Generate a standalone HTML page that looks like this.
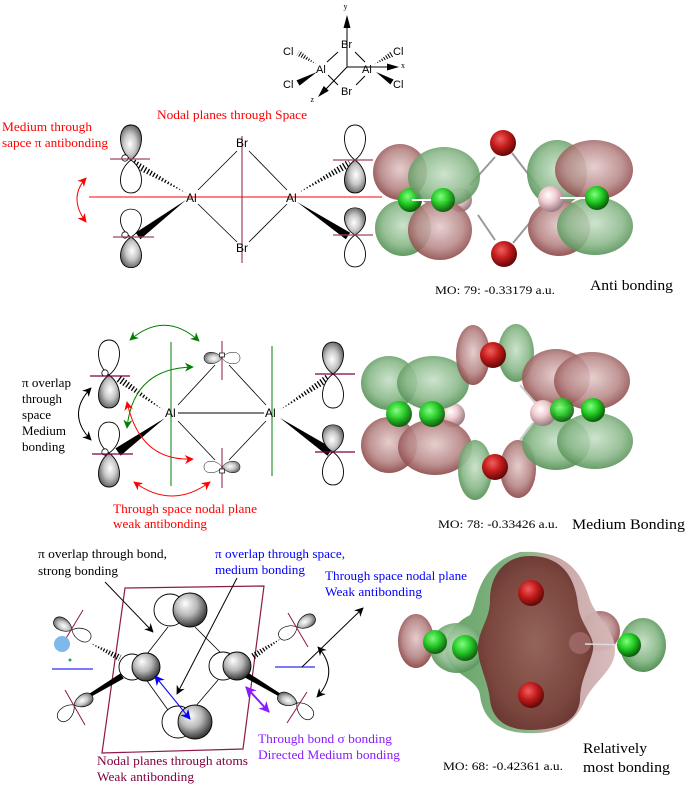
<!DOCTYPE html>
<html><head><meta charset="utf-8">
<style>
html,body{margin:0;padding:0;background:#fff;}
svg{display:block;}
.s{font-family:"Liberation Sans",sans-serif;}
.t{font-family:"Liberation Serif",serif;}
</style></head><body>
<svg width="689" height="791" viewBox="0 0 689 791" xmlns="http://www.w3.org/2000/svg">
<defs>
<path id="lobe" d="M0,0 C-14,-10 -14,-34 0,-34 C14,-34 14,-10 0,0Z"/>
<radialGradient id="gl" cx="0.45" cy="0.55" r="0.65"><stop offset="0" stop-color="#ffffff"/><stop offset="0.45" stop-color="#c8c8c8"/><stop offset="1" stop-color="#4a4a4a"/></radialGradient>
<radialGradient id="sph" cx="0.42" cy="0.38" r="0.65" fx="0.35" fy="0.3"><stop offset="0" stop-color="#ffffff"/><stop offset="0.5" stop-color="#b8b8b8"/><stop offset="1" stop-color="#2a2a2a"/></radialGradient>
<radialGradient id="gm" cx="0.5" cy="0.45" r="0.6"><stop offset="0" stop-color="#c8e0c8"/><stop offset="0.6" stop-color="#8cba8c"/><stop offset="1" stop-color="#488648"/></radialGradient>
<radialGradient id="rm" cx="0.5" cy="0.45" r="0.6"><stop offset="0" stop-color="#e4caca"/><stop offset="0.6" stop-color="#b88888"/><stop offset="1" stop-color="#823838"/></radialGradient>
<radialGradient id="rb" cx="0.4" cy="0.35" r="0.65"><stop offset="0" stop-color="#f06060"/><stop offset="0.5" stop-color="#c41c1c"/><stop offset="1" stop-color="#620808"/></radialGradient>
<radialGradient id="gb" cx="0.4" cy="0.35" r="0.65"><stop offset="0" stop-color="#80ff80"/><stop offset="0.5" stop-color="#22cc22"/><stop offset="1" stop-color="#0a5a0a"/></radialGradient>
<radialGradient id="pb" cx="0.4" cy="0.35" r="0.65"><stop offset="0" stop-color="#ffffff"/><stop offset="0.45" stop-color="#f2cdd2"/><stop offset="1" stop-color="#9a7c82"/></radialGradient>
<radialGradient id="body" cx="0.5" cy="0.5" r="0.6"><stop offset="0" stop-color="#94645a"/><stop offset="0.7" stop-color="#7a463e"/><stop offset="1" stop-color="#62322c"/></radialGradient>
<linearGradient id="env" x1="0" y1="0" x2="1" y2="0"><stop offset="0" stop-color="#5e9e5e"/><stop offset="0.5" stop-color="#86b486"/><stop offset="0.62" stop-color="#c4a0a0"/><stop offset="1" stop-color="#d6b8b8"/></linearGradient>
<marker id="aK" viewBox="0 0 10 10" refX="9" refY="5" markerWidth="9" markerHeight="9" markerUnits="userSpaceOnUse" orient="auto-start-reverse"><path d="M0,0 L10,5 L0,10 L3,5z" fill="#000"/></marker>
<marker id="aR" viewBox="0 0 10 10" refX="9" refY="5" markerWidth="9" markerHeight="9" markerUnits="userSpaceOnUse" orient="auto-start-reverse"><path d="M0,0 L10,5 L0,10 L3,5z" fill="#ff0000"/></marker>
<marker id="aG" viewBox="0 0 10 10" refX="9" refY="5" markerWidth="9" markerHeight="9" markerUnits="userSpaceOnUse" orient="auto-start-reverse"><path d="M0,0 L10,5 L0,10 L3,5z" fill="#008000"/></marker>
<marker id="aB" viewBox="0 0 10 10" refX="9" refY="5" markerWidth="10" markerHeight="10" markerUnits="userSpaceOnUse" orient="auto-start-reverse"><path d="M0,0 L10,5 L0,10 L3,5z" fill="#0000ff"/></marker>
<marker id="aP" viewBox="0 0 10 10" refX="9" refY="5" markerWidth="11" markerHeight="11" markerUnits="userSpaceOnUse" orient="auto-start-reverse"><path d="M0,0 L10,5 L0,10 L3,5z" fill="#8a1aff"/></marker>
<clipPath id="h1"><polygon points="186,193 135,159.5 131,166.5"/></clipPath>
<clipPath id="h2"><polygon points="298,193 352,166.5 348,159.5"/></clipPath>
<clipPath id="h3"><polygon points="163,410 120.3,374.7 115.7,381.3"/></clipPath>
<clipPath id="h4"><polygon points="280,410 330.2,381.3 325.8,374.7"/></clipPath>
<clipPath id="h5"><polygon points="90,643 118.4,661.1 121.6,654.9"/></clipPath>
<clipPath id="h6"><polygon points="282,638 254,659.9 250,654.1"/></clipPath>
<clipPath id="h7"><polygon points="316,64 299.6,50.4 296.4,55.6"/></clipPath>
<clipPath id="h8"><polygon points="375,64 393.5,56.6 390.5,51.4"/></clipPath>
</defs>

<!-- ================= TOP AXES DIAGRAM ================= -->
<g stroke="#000" stroke-width="1" fill="none">
<line x1="347" y1="27" x2="347" y2="67"/>
<line x1="347" y1="67" x2="389" y2="67"/>
<line x1="347" y1="67" x2="326" y2="89"/>
<line x1="327" y1="62" x2="338" y2="52"/>
<line x1="355" y1="52" x2="365" y2="62"/>
<line x1="328" y1="75" x2="338" y2="85"/>
<line x1="365" y1="76" x2="356" y2="85"/>
</g>
<polygon points="347,15 343.5,28 350.5,28" fill="#000"/>
<polygon points="399,67 387,63.5 387,70.5" fill="#000"/>
<polygon points="318,97 323.8,86 328.8,90.8" fill="#000"/>
<line x1="316" y1="64" x2="298" y2="53" stroke="#000" stroke-width="7" stroke-dasharray="1 1.6" clip-path="url(#h7)"/>
<line x1="375" y1="64" x2="392" y2="54" stroke="#000" stroke-width="7" stroke-dasharray="1 1.6" clip-path="url(#h8)"/>
<polygon points="317,72 299.5,85.6 296.5,80.4" fill="#000"/>
<polygon points="376,72 390.4,84.5 393.6,79.5" fill="#000"/>
<g class="s" font-size="11" fill="#000">
<text x="341" y="48">Br</text>
<text x="341" y="95">Br</text>
<text x="316" y="73">Al</text>
<text x="362" y="73">Al</text>
<text x="283" y="55">Cl</text>
<text x="283" y="88">Cl</text>
<text x="393" y="55">Cl</text>
<text x="393" y="88">Cl</text>
</g>
<g class="t" font-size="8" fill="#000">
<text x="343.5" y="9">y</text>
<text x="401" y="68">x</text>
<text x="310.5" y="102">z</text>
</g>

<!-- ================= SECTION 1 ================= -->
<text class="t" x="157" y="119" font-size="13" fill="#ff0000" textLength="150" lengthAdjust="spacingAndGlyphs">Nodal planes through Space</text>
<text class="t" x="2" y="131" font-size="13" fill="#ff0000" textLength="90" lengthAdjust="spacingAndGlyphs">Medium through</text>
<text class="t" x="2" y="147" font-size="13" fill="#ff0000" textLength="106" lengthAdjust="spacingAndGlyphs">sapce π antibonding</text>

<line x1="89" y1="197" x2="382" y2="197" stroke="#ff0000" stroke-width="1"/>
<line x1="242" y1="136" x2="242" y2="263" stroke="#8b1a4a" stroke-width="1"/>
<g stroke="#000" stroke-width="0.8">
<line x1="198" y1="190" x2="237" y2="151"/>
<line x1="249" y1="151" x2="287" y2="190"/>
<line x1="198" y1="204" x2="237" y2="242"/>
<line x1="249" y1="242" x2="287" y2="204"/>
</g>
<line x1="186" y1="193" x2="133" y2="163" stroke="#000" stroke-width="10" stroke-dasharray="1.3 2" clip-path="url(#h1)"/>
<line x1="298" y1="193" x2="350" y2="163" stroke="#000" stroke-width="10" stroke-dasharray="1.3 2" clip-path="url(#h2)"/>
<polygon points="186,200 140.4,239.2 135.6,232.8" fill="#000"/>
<polygon points="297,202 345.8,239.3 350.2,232.7" fill="#000"/>

<g stroke="#000" stroke-width="0.9">
<use href="#lobe" transform="translate(131,160) scale(1,1.03)" fill="url(#gl)"/>
<use href="#lobe" transform="translate(131,160) rotate(180) scale(1,0.97)" fill="#fff"/>
<use href="#lobe" transform="translate(131,237) scale(1,0.82)" fill="#fff"/>
<use href="#lobe" transform="translate(131,237) rotate(180) scale(1,0.9)" fill="url(#gl)"/>
<use href="#lobe" transform="translate(355,160) scale(1,1.03)" fill="#fff"/>
<use href="#lobe" transform="translate(355,160) rotate(180) scale(1,0.97)" fill="url(#gl)"/>
<use href="#lobe" transform="translate(355,235) scale(1,0.8)" fill="url(#gl)"/>
<use href="#lobe" transform="translate(355,235) rotate(180) scale(1,0.94)" fill="#fff"/>
</g>
<circle cx="125" cy="158" r="3.2" fill="#fff" stroke="#000" stroke-width="0.8"/>
<circle cx="125" cy="235" r="3.2" fill="#fff" stroke="#000" stroke-width="0.8"/>
<g stroke="#a0406a" stroke-width="1.2">
<line x1="110" y1="159" x2="150" y2="159"/>
<line x1="113" y1="237" x2="154" y2="237"/>
<line x1="333" y1="160" x2="373" y2="160"/>
<line x1="333" y1="235" x2="373" y2="235"/>
</g>
<g class="s" font-size="12" fill="#000">
<text x="186" y="202">Al</text>
<text x="286" y="202">Al</text>
<text x="236" y="147">Br</text>
<text x="236" y="252">Br</text>
</g>
<path d="M86,178 Q68,198 86,222" fill="none" stroke="#ff0000" stroke-width="1" marker-start="url(#aR)" marker-end="url(#aR)"/>

<!-- MO 79 -->
<g stroke="#999" stroke-width="2">
<line x1="495" y1="157" x2="470" y2="185"/>
<line x1="512" y1="153" x2="542" y2="192"/>
<line x1="478" y1="215" x2="495" y2="240"/>
<line x1="513" y1="243" x2="542" y2="208"/>
</g>
<g opacity="0.92">
<ellipse cx="400" cy="172" rx="27" ry="28" fill="url(#rm)"/>
<ellipse cx="403" cy="228" rx="28" ry="28" fill="url(#gm)"/>
<ellipse cx="557" cy="173" rx="30" ry="33" fill="url(#gm)"/>
<ellipse cx="559" cy="228" rx="31" ry="28" fill="url(#rm)"/>
</g>
<circle cx="410" cy="200" r="12" fill="url(#gb)"/>
<circle cx="460" cy="200" r="12" fill="url(#pb)"/>
<g opacity="0.88">
<ellipse cx="444" cy="177" rx="36" ry="30" fill="url(#gm)"/>
<ellipse cx="440" cy="230" rx="32" ry="30" fill="url(#rm)"/>
</g>
<line x1="412" y1="200" x2="455" y2="200" stroke="#fff" stroke-width="2"/>
<circle cx="443" cy="200" r="12" fill="url(#gb)" opacity="0.95"/>
<circle cx="551" cy="199" r="13" fill="url(#pb)"/>
<g opacity="0.88">
<ellipse cx="594" cy="170" rx="39" ry="30" fill="url(#rm)"/>
<ellipse cx="595" cy="226" rx="38" ry="29" fill="url(#gm)"/>
</g>
<line x1="560" y1="198" x2="595" y2="198" stroke="#fff" stroke-width="2"/>
<circle cx="597" cy="198" r="12" fill="url(#gb)"/>
<circle cx="503" cy="143" r="13" fill="url(#rb)"/>
<circle cx="504" cy="254" r="13" fill="url(#rb)"/>
<text class="t" x="435" y="294" font-size="12" fill="#000" textLength="120" lengthAdjust="spacingAndGlyphs">MO: 79: -0.33179 a.u.</text>
<text class="t" x="590" y="290" font-size="15" fill="#000" textLength="83" lengthAdjust="spacingAndGlyphs">Anti bonding</text>

<!-- ================= SECTION 2 ================= -->
<line x1="171" y1="342" x2="171" y2="486" stroke="#008000" stroke-width="1"/>
<line x1="272" y1="346" x2="272" y2="476" stroke="#008000" stroke-width="1"/>
<line x1="222" y1="341" x2="222" y2="380" stroke="#a0406a" stroke-width="1.2"/>
<line x1="222" y1="448" x2="222" y2="488" stroke="#a0406a" stroke-width="1.2"/>
<g stroke="#000" stroke-width="0.8">
<line x1="178" y1="413" x2="264" y2="413" stroke-width="1"/>
<line x1="178" y1="405" x2="215" y2="365"/>
<line x1="229" y1="365" x2="266" y2="405"/>
<line x1="178" y1="421" x2="215" y2="460"/>
<line x1="229" y1="460" x2="266" y2="421"/>
</g>
<line x1="163" y1="410" x2="118" y2="378" stroke="#000" stroke-width="10" stroke-dasharray="1.3 2" clip-path="url(#h3)"/>
<line x1="280" y1="410" x2="328" y2="378" stroke="#000" stroke-width="10" stroke-dasharray="1.3 2" clip-path="url(#h4)"/>
<polygon points="165,418 120.6,455.6 115.4,448.4" fill="#000"/>
<polygon points="280,418 327.5,455.7 332.5,448.3" fill="#000"/>

<g stroke="#000" stroke-width="0.9">
<use href="#lobe" transform="translate(109,375) scale(1,1.03)" fill="#fff"/>
<use href="#lobe" transform="translate(109,375) rotate(180) scale(1,0.97)" fill="url(#gl)"/>
<use href="#lobe" transform="translate(109,453) scale(1,0.91)" fill="#fff"/>
<use href="#lobe" transform="translate(109,453) rotate(180) scale(1,1)" fill="url(#gl)"/>
<use href="#lobe" transform="translate(333,374) scale(1,0.94)" fill="url(#gl)"/>
<use href="#lobe" transform="translate(333,374) rotate(180) scale(1,1)" fill="#fff"/>
<use href="#lobe" transform="translate(333,452) scale(1,0.8)" fill="url(#gl)"/>
<use href="#lobe" transform="translate(333,452) rotate(180) scale(1,0.97)" fill="#fff"/>
<use href="#lobe" transform="translate(222,358) rotate(-90) scale(0.55,0.53)" fill="url(#gl)"/>
<use href="#lobe" transform="translate(222,358) rotate(90) scale(0.55,0.53)" fill="#fff"/>
<use href="#lobe" transform="translate(222,467) rotate(-90) scale(0.55,0.53)" fill="#fff"/>
<use href="#lobe" transform="translate(222,467) rotate(90) scale(0.55,0.53)" fill="url(#gl)"/>
</g>
<rect x="219.5" y="353" width="5" height="4" fill="#fff" stroke="#000" stroke-width="0.7"/>
<rect x="219.5" y="469" width="5" height="4" fill="#fff" stroke="#000" stroke-width="0.7"/>
<circle cx="105" cy="373" r="3.2" fill="#fff" stroke="#000" stroke-width="0.8"/>
<circle cx="105" cy="452" r="3.2" fill="#fff" stroke="#000" stroke-width="0.8"/>
<g stroke="#800040" stroke-width="1.2">
<line x1="90" y1="376" x2="130" y2="376"/>
<line x1="92" y1="454" x2="133" y2="454"/>
<line x1="315" y1="374" x2="355" y2="374"/>
<line x1="315" y1="452" x2="355" y2="452"/>
</g>
<g class="s" font-size="12" fill="#000">
<text x="165" y="417">Al</text>
<text x="265" y="417">Al</text>
</g>
<path d="M130,340 Q165,310 199,341" fill="none" stroke="#008000" stroke-width="1" marker-start="url(#aG)" marker-end="url(#aG)"/>
<path d="M193,367 Q133,368 127,428" fill="none" stroke="#008000" stroke-width="1" marker-start="url(#aG)" marker-end="url(#aG)"/>
<path d="M127,402 Q140,462 193,459" fill="none" stroke="#ff0000" stroke-width="1" marker-start="url(#aR)" marker-end="url(#aR)"/>
<path d="M134,482 Q172,510 210,482" fill="none" stroke="#ff0000" stroke-width="1" marker-start="url(#aR)" marker-end="url(#aR)"/>
<path d="M91,388 Q66,414 91,440" fill="none" stroke="#000" stroke-width="1" marker-start="url(#aK)" marker-end="url(#aK)"/>
<g class="t" font-size="13" fill="#000">
<text x="22" y="387" textLength="49" lengthAdjust="spacingAndGlyphs">π overlap</text>
<text x="22" y="403" textLength="40" lengthAdjust="spacingAndGlyphs">through</text>
<text x="22" y="419" textLength="29" lengthAdjust="spacingAndGlyphs">space</text>
<text x="22" y="435" textLength="44" lengthAdjust="spacingAndGlyphs">Medium</text>
<text x="22" y="451" textLength="43" lengthAdjust="spacingAndGlyphs">bonding</text>
</g>
<text class="t" x="113" y="513" font-size="13" fill="#ff0000" textLength="144" lengthAdjust="spacingAndGlyphs">Through space nodal plane</text>
<text class="t" x="113" y="528" font-size="13" fill="#ff0000" textLength="94" lengthAdjust="spacingAndGlyphs">weak antibonding</text>

<!-- MO 78 -->
<g opacity="0.92">
<ellipse cx="389" cy="383" rx="28" ry="27" fill="url(#gm)"/>
<ellipse cx="389" cy="445" rx="28" ry="28" fill="url(#rm)"/>
</g>
<circle cx="453" cy="415" r="12" fill="url(#pb)"/>
<g opacity="0.9">
<ellipse cx="433" cy="383" rx="36" ry="27" fill="url(#gm)"/>
<ellipse cx="435" cy="447" rx="37" ry="28" fill="url(#rm)"/>
</g>
<line x1="399" y1="414" x2="445" y2="414" stroke="#fff" stroke-width="2"/>
<circle cx="399" cy="414" r="13" fill="url(#gb)" opacity="0.95"/>
<circle cx="432" cy="414" r="13" fill="url(#gb)" opacity="0.95"/>
<g opacity="0.92">
<ellipse cx="473" cy="355" rx="17" ry="30" fill="url(#rm)"/>
<ellipse cx="516" cy="353" rx="18" ry="29" fill="url(#gm)"/>
<ellipse cx="475" cy="470" rx="17" ry="30" fill="url(#gm)"/>
<ellipse cx="518" cy="469" rx="18" ry="29" fill="url(#rm)"/>
</g>
<circle cx="493" cy="355" r="13" fill="url(#rb)"/>
<circle cx="495" cy="467" r="13" fill="url(#rb)"/>
<g opacity="0.92">
<ellipse cx="556" cy="378" rx="34" ry="29" fill="url(#rm)"/>
<ellipse cx="556" cy="443" rx="34" ry="27" fill="url(#gm)"/>
</g>
<g stroke="#ccc" stroke-width="2">
<line x1="520" y1="385" x2="537" y2="405"/>
<line x1="533" y1="423" x2="520" y2="440"/>
</g>
<circle cx="543" cy="413" r="13" fill="url(#pb)"/>
<g opacity="0.88">
<ellipse cx="592" cy="381" rx="38" ry="29" fill="url(#rm)"/>
<ellipse cx="595" cy="441" rx="38" ry="28" fill="url(#gm)"/>
</g>
<line x1="555" y1="411" x2="595" y2="411" stroke="#fff" stroke-width="2"/>
<circle cx="562" cy="410" r="12" fill="url(#gb)" opacity="0.9"/>
<circle cx="593" cy="410" r="12" fill="url(#gb)"/>
<text class="t" x="438" y="528" font-size="12" fill="#000" textLength="120" lengthAdjust="spacingAndGlyphs">MO: 78: -0.33426 a.u.</text>
<text class="t" x="572" y="529" font-size="15" fill="#000" textLength="113" lengthAdjust="spacingAndGlyphs">Medium Bonding</text>

<!-- ================= SECTION 3 ================= -->
<g class="t" font-size="13">
<text x="38" y="558" fill="#000" textLength="129" lengthAdjust="spacingAndGlyphs">π overlap through bond,</text>
<text x="38" y="575" fill="#000" textLength="80" lengthAdjust="spacingAndGlyphs">strong bonding</text>
<text x="215" y="558" fill="#0000ff" textLength="130" lengthAdjust="spacingAndGlyphs">π overlap through space,</text>
<text x="215" y="574" fill="#0000ff" textLength="90" lengthAdjust="spacingAndGlyphs">medium bonding</text>
<text x="325" y="580" fill="#0000ff" textLength="142" lengthAdjust="spacingAndGlyphs">Through space nodal plane</text>
<text x="325" y="596" fill="#0000ff" textLength="97" lengthAdjust="spacingAndGlyphs">Weak antibonding</text>
<text x="258" y="743" fill="#8a1aff" textLength="134" lengthAdjust="spacingAndGlyphs">Through bond σ bonding</text>
<text x="258" y="759" fill="#8a1aff" textLength="142" lengthAdjust="spacingAndGlyphs">Directed Medium bonding</text>
<text x="97" y="765" fill="#800040" textLength="151" lengthAdjust="spacingAndGlyphs">Nodal planes  through atoms</text>
<text x="97" y="781" fill="#800040" textLength="97" lengthAdjust="spacingAndGlyphs">Weak antibonding</text>
</g>

<polygon points="125,588 264,586 243,749 102,753" fill="none" stroke="#8b1a4a" stroke-width="1.2"/>
<g stroke="#000" stroke-width="0.8">
<line x1="147" y1="654" x2="168" y2="627"/>
<line x1="195" y1="627" x2="223" y2="655"/>
<line x1="145" y1="678" x2="168" y2="710"/>
<line x1="218" y1="680" x2="195" y2="707"/>
</g>
<!-- wedges -->
<line x1="90" y1="643" x2="120" y2="658" stroke="#000" stroke-width="8" stroke-dasharray="1.2 1.8" clip-path="url(#h5)"/>
<line x1="282" y1="638" x2="253" y2="657" stroke="#000" stroke-width="8" stroke-dasharray="1.2 1.8" clip-path="url(#h6)"/>
<polygon points="123.7,678.5 120.3,673.5 87.3,695 88.7,698" fill="#000"/>
<polygon points="241.5,675.6 244.5,670.4 281,694 280,697" fill="#000"/>
<!-- Cl orbitals -->
<g stroke="#000" stroke-width="1.1">
<use href="#lobe" transform="translate(72,630) rotate(-60) scale(0.6)" fill="url(#gl)"/>
<use href="#lobe" transform="translate(72,630) rotate(115) scale(0.6)" fill="#fff"/>
<use href="#lobe" transform="translate(74,705) rotate(65) scale(0.6)" fill="url(#gl)"/>
<use href="#lobe" transform="translate(74,705) rotate(225) scale(0.62)" fill="#fff"/>
<use href="#lobe" transform="translate(297,627) rotate(60) scale(0.6)" fill="url(#gl)"/>
<use href="#lobe" transform="translate(297,627) rotate(240) scale(0.6)" fill="#fff"/>
<use href="#lobe" transform="translate(297,703) rotate(-70) scale(0.6)" fill="url(#gl)"/>
<use href="#lobe" transform="translate(297,703) rotate(135) scale(0.62)" fill="#fff"/>
</g>
<g stroke="#8b1a4a" stroke-width="1">
<line x1="83" y1="610" x2="62" y2="645"/>
<line x1="65" y1="690" x2="85" y2="725"/>
<line x1="288" y1="613" x2="308" y2="647"/>
<line x1="307" y1="692" x2="287" y2="723"/>
</g>
<circle cx="62" cy="644" r="8" fill="#7fb8ea"/>
<circle cx="70" cy="660" r="1.5" fill="#22aa44"/>
<line x1="52" y1="669" x2="93" y2="669" stroke="#7a7aff" stroke-width="2"/>
<line x1="275" y1="667" x2="315" y2="667" stroke="#7a7aff" stroke-width="2"/>
<!-- atoms -->
<g stroke="#000" stroke-width="0.9">
<circle cx="170" cy="610" r="16" fill="#fff"/>
<circle cx="190" cy="610" r="17" fill="url(#sph)"/>
<circle cx="178" cy="722" r="16" fill="#fff"/>
<circle cx="195" cy="722" r="17" fill="url(#sph)"/>
<circle cx="132" cy="667" r="13" fill="#fff"/>
<circle cx="146" cy="667" r="14" fill="url(#sph)"/>
<circle cx="223" cy="666" r="14" fill="#fff"/>
<circle cx="237" cy="666" r="14" fill="url(#sph)"/>
</g>
<!-- arrows -->
<line x1="105" y1="582" x2="153" y2="632" stroke="#000" stroke-width="1" marker-end="url(#aK)"/>
<line x1="237" y1="578" x2="177" y2="694" stroke="#000" stroke-width="1" marker-end="url(#aK)"/>
<line x1="155" y1="676" x2="190" y2="719" stroke="#0000ff" stroke-width="1" marker-start="url(#aB)" marker-end="url(#aB)"/>
<line x1="246" y1="687" x2="269" y2="712" stroke="#8a1aff" stroke-width="2" marker-start="url(#aP)" marker-end="url(#aP)"/>
<line x1="302" y1="667" x2="363" y2="608" stroke="#000" stroke-width="1" marker-end="url(#aK)"/>
<path d="M318,647 Q340,672 317,697" fill="none" stroke="#000" stroke-width="1" marker-start="url(#aK)" marker-end="url(#aK)"/>

<!-- MO 68 -->
<ellipse cx="416" cy="641" rx="18" ry="27" fill="url(#rm)" opacity="0.95"/>
<ellipse cx="600" cy="631" rx="20" ry="20" fill="url(#rm)" opacity="0.95"/>
<path d="M520,552 C560,550 580,565 590,600 C598,620 615,630 615,650 C615,670 595,680 585,700 C575,725 555,735 525,733 C495,732 482,715 480,695 C478,680 455,675 448,660 C440,645 450,625 470,615 C478,605 475,565 520,552Z" fill="url(#env)" opacity="0.95"/>
<ellipse cx="457" cy="648" rx="27" ry="25" fill="url(#gm)" opacity="0.9"/>
<path d="M530,556 C560,556 575,575 578,605 C580,625 595,635 593,650 C590,665 580,680 580,700 C578,720 560,730 530,730 C505,730 492,718 490,700 C488,680 478,665 478,648 C478,630 490,620 490,600 C490,575 505,556 530,556Z" fill="url(#body)"/>
<circle cx="580" cy="643" r="11" fill="#a87070" opacity="0.7"/>
<ellipse cx="643" cy="645" rx="23" ry="27" fill="url(#gm)"/>
<line x1="585" y1="644" x2="628" y2="645" stroke="#ddd" stroke-width="1.5"/>
<circle cx="435" cy="642" r="12" fill="url(#gb)" opacity="0.95"/>
<circle cx="465" cy="648" r="13" fill="url(#gb)" opacity="0.95"/>
<circle cx="629" cy="645" r="12" fill="url(#gb)"/>
<circle cx="531" cy="593" r="13" fill="url(#rb)"/>
<circle cx="531" cy="695" r="13" fill="url(#rb)"/>
<text class="t" x="443" y="770" font-size="12" fill="#000" textLength="120" lengthAdjust="spacingAndGlyphs">MO: 68: -0.42361 a.u.</text>
<text class="t" x="583" y="753" font-size="15" fill="#000" textLength="64" lengthAdjust="spacingAndGlyphs">Relatively</text>
<text class="t" x="583" y="772" font-size="15" fill="#000" textLength="87" lengthAdjust="spacingAndGlyphs">most bonding</text>
</svg>
</body></html>
